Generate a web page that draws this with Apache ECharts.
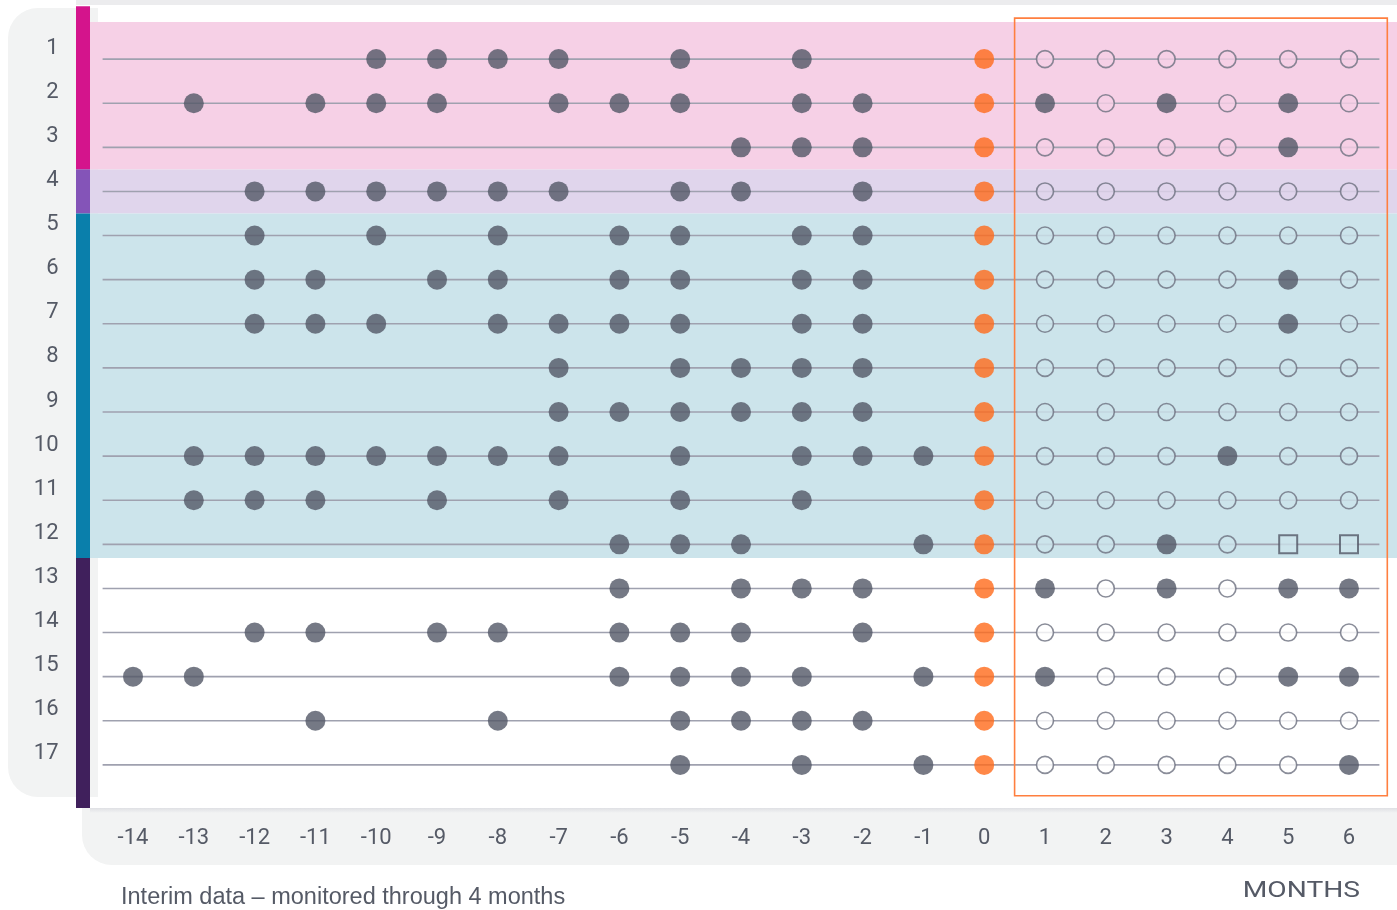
<!DOCTYPE html>
<html>
<head>
<meta charset="utf-8">
<script src="https://cdn.jsdelivr.net/npm/echarts@6/dist/echarts.min.js"></script>
<style>
html,body{margin:0;padding:0;background:#ffffff;}
#chart{width:1397px;height:910px;}
</style>
</head>
<body>
<div id="chart"></div>
<script>
// ---------------- DATA ----------------
const rows = [1,2,3,4,5,6,7,8,9,10,11,12,13,14,15,16,17];
const xTicks = [-14,-13,-12,-11,-10,-9,-8,-7,-6,-5,-4,-3,-2,-1,0,1,2,3,4,5,6];
const baselineMonth = 0;
const followUpMonths = [1,2,3,4,5,6];
// months with an event before baseline, one list per row
const preEvents = [
  [-10,-9,-8,-7,-5,-3],
  [-13,-11,-10,-9,-7,-6,-5,-3,-2],
  [-4,-3,-2],
  [-12,-11,-10,-9,-8,-7,-5,-4,-2],
  [-12,-10,-8,-6,-5,-3,-2],
  [-12,-11,-9,-8,-6,-5,-3,-2],
  [-12,-11,-10,-8,-7,-6,-5,-3,-2],
  [-7,-5,-4,-3,-2],
  [-7,-6,-5,-4,-3,-2],
  [-13,-12,-11,-10,-9,-8,-7,-5,-3,-2,-1],
  [-13,-12,-11,-9,-7,-5,-3],
  [-6,-5,-4,-1],
  [-6,-4,-3,-2],
  [-12,-11,-9,-8,-6,-5,-4,-2],
  [-14,-13,-6,-5,-4,-3,-1],
  [-11,-8,-5,-4,-3,-2],
  [-5,-3,-1]
];
// follow-up months with an event (filled), one list per row
const postEvents = [
  [], [1,3,5], [5], [], [], [5], [5], [], [], [4], [], [3], [1,3,5,6], [], [1,5,6], [], [6]
];
// follow-up months shown as squares, one list per row
const postSquares = [
  [], [], [], [], [], [], [], [], [], [], [], [5,6], [], [], [], [], []
];
// row groups (first row, last row)
const groupRows = [[1,3],[4,4],[5,12],[13,17]];

// ---------------- STYLE ----------------
const DARK = '#525766';
const ORANGE = '#ff6a1a';
const TEXT = '#555a66';
const LINE = '#9fa1af';
const OPEN_STROKE = '#6d7080';
const BAR_COLORS = ['#d4148c', '#8454b8', '#0a7fab', '#40205c'];
const BAND_COLORS = ['#f6d0e6', '#e0d5ec', '#cce4eb', null];
const BAND_EDGES = [0.16, 3.5, 4.5, 12.31, 17.98];
const BAR_EDGES = [-0.2, 3.5, 4.5, 12.31, 17.98];
const FONT = '"Liberation Sans", Arial, sans-serif';
const TICK_FONT = 'Roboto, "Liberation Sans", sans-serif';

function groupOf(r) {
  for (let i = 0; i < groupRows.length; i++) {
    if (r >= groupRows[i][0] && r <= groupRows[i][1]) return i;
  }
  return groupRows.length - 1;
}
function rowFill(r) { return BAND_COLORS[groupOf(r)] || '#ffffff'; }

// ---------------- BUILD SERIES DATA ----------------
const preData = [];
preEvents.forEach((list, i) => list.forEach(m => preData.push([m, rows[i]])));
const baseData = rows.map(r => [baselineMonth, r]);
const postFilledData = [];
const postOpenData = [];
const postSquareData = [];
rows.forEach((r, i) => {
  followUpMonths.forEach(m => {
    if (postEvents[i].indexOf(m) >= 0) postFilledData.push([m, r]);
    else if (postSquares[i].indexOf(m) >= 0) postSquareData.push({value: [m, r], itemStyle: {color: rowFill(r)}});
    else postOpenData.push({value: [m, r], itemStyle: {color: rowFill(r)}});
  });
});

const chart = echarts.init(document.getElementById('chart'), null, {renderer: 'canvas'});

const option = {
  animation: false,
  grid: {left: 102.6, right: 17.6, top: 15, bottom: 101, containLabel: false},
  xAxis: {
    type: 'value', min: -14.5, max: 6.5,
    axisLine: {show: false}, axisTick: {show: false}, splitLine: {show: false},
    axisLabel: {
      customValues: xTicks, margin: 18, color: TEXT, fontSize: 22, fontFamily: TICK_FONT,
      formatter: v => String(v)
    }
  },
  yAxis: {
    type: 'value', inverse: true, min: 0, max: 18,
    axisLine: {show: false}, axisTick: {show: false}, splitLine: {show: false},
    axisLabel: {
      customValues: rows, margin: 44, color: TEXT, fontSize: 22, fontFamily: TICK_FONT,
      verticalAlign: 'bottom', padding: [0, 0, 0, 0],
      formatter: v => String(v)
    }
  },
  graphic: [
    {type: 'rect', z: 0, shape: {x: 76, y: 0, width: 1321, height: 5}, style: {fill: '#ececee'}},
    {type: 'rect', z: 0, shape: {x: 8, y: 8, width: 90, height: 789, r: [30, 0, 0, 30]}, style: {fill: '#f2f3f3'}},
    {type: 'rect', z: 0, shape: {x: 82, y: 808, width: 1340, height: 57, r: [0, 0, 0, 30]}, style: {fill: '#f2f3f3'}},
    {type: 'rect', z: 0, shape: {x: 90, y: 808, width: 1307, height: 5},
      style: {fill: new echarts.graphic.LinearGradient(0, 0, 0, 1, [{offset: 0, color: '#dfe0e4'}, {offset: 1, color: '#f2f3f3'}])}},
    {type: 'text', z: 10, x: 121, y: 898,
      style: {text: 'Interim data – monitored through 4 months', fill: TEXT, font: '23.5px ' + FONT, textVerticalAlign: 'middle'}},
    {type: 'text', z: 10, x: 1360, y: 891, scaleX: 1.28,
      style: {text: 'MONTHS', fill: TEXT, font: '22px ' + TICK_FONT, textAlign: 'right', textVerticalAlign: 'middle'}}
  ],
  series: [
    {
      type: 'custom', name: 'groups', z: 1, clip: false, silent: true,
      data: groupRows.map((g, i) => [i]),
      renderItem: function (params, api) {
        const i = params.dataIndex;
        const yTop = api.coord([0, BAND_EDGES[i]])[1];
        const yBot = api.coord([0, BAND_EDGES[i + 1]])[1];
        const barTop = api.coord([0, BAR_EDGES[i]])[1];
        const children = [{type: 'rect', shape: {x: 76, y: barTop, width: 14, height: yBot - barTop}, style: {fill: BAR_COLORS[i]}}];
        if (BAND_COLORS[i]) {
          children.unshift({type: 'rect', shape: {x: 90, y: yTop, width: 1307, height: yBot - yTop}, style: {fill: BAND_COLORS[i]}});
        }
        return {type: 'group', children: children};
      }
    },
    {
      type: 'custom', name: 'rowLines', z: 2, clip: false, silent: true,
      data: rows.map(r => [r]),
      renderItem: function (params, api) {
        const r = api.value(0);
        const p0 = api.coord([-14.5, r]);
        const p1 = api.coord([6.5, r]);
        return {type: 'line', shape: {x1: p0[0], y1: p0[1], x2: p1[0], y2: p1[1]}, style: {stroke: LINE, lineWidth: 1.6}};
      },
      encode: {y: 0}
    },
    {
      type: 'scatter', name: 'pre', z: 3, symbol: 'circle', symbolSize: 20,
      itemStyle: {color: DARK}, data: preData
    },
    {
      type: 'scatter', name: 'baseline', z: 3, symbol: 'circle', symbolSize: 20,
      itemStyle: {color: ORANGE}, data: baseData
    },
    {
      type: 'scatter', name: 'postFilled', z: 3, symbol: 'circle', symbolSize: 20,
      itemStyle: {color: DARK}, data: postFilledData
    },
    {
      type: 'scatter', name: 'postOpen', z: 3, symbol: 'circle', symbolSize: 17,
      itemStyle: {borderColor: OPEN_STROKE, borderWidth: 1.6}, data: postOpenData
    },
    {
      type: 'scatter', name: 'postSquare', z: 3, symbol: 'rect', symbolSize: 18,
      itemStyle: {borderColor: DARK, borderWidth: 2}, data: postSquareData
    },
    {
      type: 'custom', name: 'window', z: 4, clip: false, silent: true,
      data: [[0.5]],
      renderItem: function (params, api) {
        const a = api.coord([0.5, 0.07]);
        const b = api.coord([6.63, 17.7]);
        return {type: 'rect', shape: {x: a[0], y: a[1], width: b[0] - a[0], height: b[1] - a[1]},
          style: {fill: 'none', stroke: '#ff7f3f', lineWidth: 1.6}};
      }
    }
  ]
};
chart.setOption(option);
</script>
</body>
</html>
